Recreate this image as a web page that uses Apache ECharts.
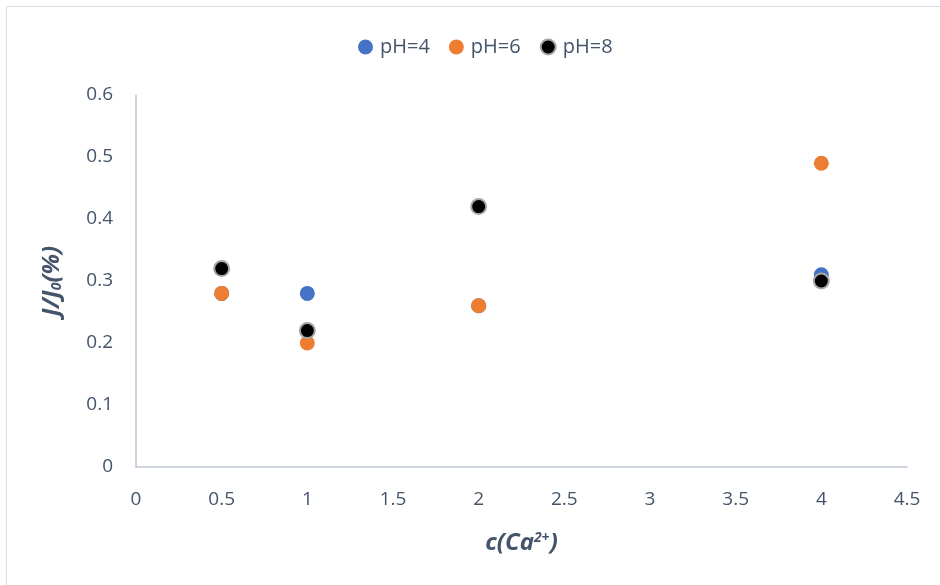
<!DOCTYPE html>
<html>
<head>
<meta charset="utf-8">
<script src="https://cdn.jsdelivr.net/npm/echarts@6/dist/echarts.min.js"></script>
<style>html,body{margin:0;padding:0;background:#fff}#c{width:940px;height:585px}</style>
</head>
<body>
<div id="c"></div>
<script>
var seriesNames = ['pH=4', 'pH=6', 'pH=8'];
var xValues = [0.5, 1, 2, 4];
var ph4 = [0.28, 0.28, 0.26, 0.31];
var ph6 = [0.28, 0.20, 0.26, 0.49];
var ph8 = [0.32, 0.22, 0.42, 0.30];
var colors = ['#4472C4', '#ED7D31', '#000000'];

function pairs(ys) { return xValues.map(function (x, i) { return [x, ys[i]]; }); }

var chart = echarts.init(document.getElementById('c'));
var txt = '#44546A';
var font = '"Open Sans", "Noto Sans", sans-serif';
chart.setOption({
  backgroundColor: '#fff',
  animation: false,
  graphic: [{
    type: 'rect', left: 4, top: 4,
    shape: { width: 950, height: 600 },
    style: { fill: 'none', stroke: '#D9DEE6', lineWidth: 1 }
  }],
  legend: {
    top: 32, left: 353,
    itemWidth: 15, itemHeight: 15, itemGap: 19,
    textStyle: { color: txt, fontSize: 20, fontFamily: font, padding: [0, 0, 0, 2] },
    data: seriesNames
  },
  grid: { left: 136, right: 33, top: 95, bottom: 118 },
  xAxis: {
    type: 'value', min: 0, max: 4.5, interval: 0.5,
    axisLine: { lineStyle: { color: '#BFC7D5', width: 1.5 } },
    axisTick: { show: false },
    splitLine: { show: false },
    axisLabel: { color: txt, fontSize: 19, fontFamily: font, margin: 23 },
    name: '{a|c(Ca}{s|2+}{a|)}',
    nameLocation: 'middle', nameGap: 64,
    nameTextStyle: {
      rich: {
        a: { fontSize: 24, fontWeight: 'bold', fontStyle: 'italic', color: txt, fontFamily: font },
        s: { fontSize: 14, fontWeight: 'bold', fontStyle: 'italic', color: txt, fontFamily: font, verticalAlign: 'top', padding: [0, 0, 10, 0] }
      }
    }
  },
  yAxis: {
    type: 'value', min: 0, max: 0.6, interval: 0.1,
    axisLine: { show: true, lineStyle: { color: '#BFC7D5', width: 1.5 } },
    axisTick: { show: false },
    splitLine: { show: false },
    axisLabel: { color: txt, fontSize: 19, fontFamily: font, margin: 23 },
    name: '{a|J/J}{b|0}{a|(%)}',
    nameLocation: 'middle', nameGap: 72, nameMoveOverlap: false,
    nameTextStyle: {
      rich: {
        a: { fontSize: 24, fontWeight: 'bold', fontStyle: 'italic', color: txt, fontFamily: font },
        b: { fontSize: 14, fontWeight: 'bold', fontStyle: 'italic', color: txt, fontFamily: font, padding: [10, 0, 0, 0] }
      }
    }
  },
  series: [
    { name: seriesNames[0], type: 'scatter', symbolSize: 15, data: pairs(ph4), itemStyle: { color: colors[0], opacity: 1 } },
    { name: seriesNames[1], type: 'scatter', symbolSize: 15, data: pairs(ph6), itemStyle: { color: colors[1], opacity: 1 } },
    { name: seriesNames[2], type: 'scatter', symbolSize: 15, data: pairs(ph8), itemStyle: { color: colors[2], opacity: 1, borderColor: '#A6A6A6', borderWidth: 2 } }
  ]
});
</script>
</body>
</html>
